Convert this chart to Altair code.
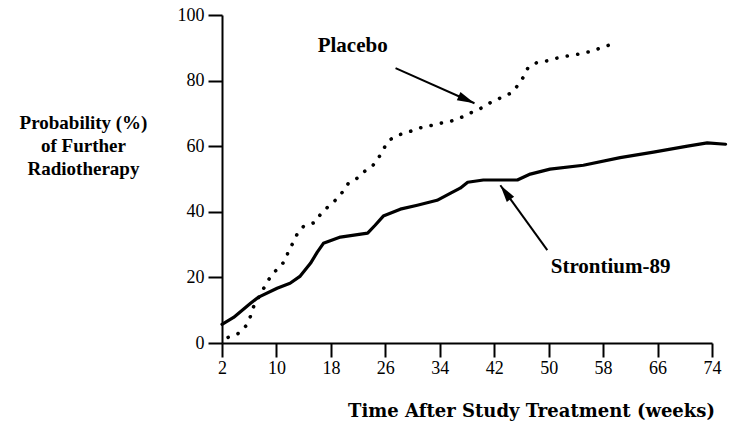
import altair as alt
import pandas as pd

# ---- data ----
placebo_weeks = [2.9, 4.5, 5.6, 6.2, 6.6, 7.9, 8.7, 9.5, 10.6, 11.5, 11.7, 12.5, 13.1, 14.0,
                 15.7, 16.4, 17.5, 18.7, 19.7, 20.6, 21.9, 22.8, 24.2, 25.0, 25.7, 26.6, 27.9,
                 29.4, 30.9, 32.3, 34.1, 35.6, 37.3, 38.8, 40.4, 41.6, 42.9, 44.5, 45.5, 46.3,
                 47.0, 48.2, 49.7, 51.3, 52.7, 54.5, 56.4, 57.9, 59.5]
placebo_prob = [1.7, 3.0, 5.4, 8.2, 10.9, 15.8, 18.8, 21.3, 23.4, 25.8, 28.0, 30.7, 33.5, 35.6,
                36.8, 39.0, 41.4, 43.6, 46.0, 48.8, 50.3, 52.1, 54.2, 56.4, 59.1, 61.9, 63.4,
                64.3, 65.5, 66.1, 67.0, 67.6, 68.9, 70.4, 71.9, 73.5, 74.7, 76.2, 78.6, 81.1,
                84.1, 85.4, 86.0, 86.9, 87.5, 88.1, 89.0, 90.2, 91.2]

strontium_weeks = [2.0, 3.7, 6.2, 7.3, 10.1, 12.0, 13.5, 15.0, 16.0, 16.9, 19.4, 23.4, 24.5,
                   25.7, 28.2, 30.7, 33.6, 35.6, 37.0, 38.1, 40.4, 45.4, 47.3, 50.2, 55.1,
                   60.5, 65.4, 70.4, 73.3, 76.0]
strontium_prob = [5.7, 7.8, 12.1, 13.9, 16.7, 18.2, 20.4, 24.3, 27.7, 30.4, 32.3, 33.5, 35.9,
                  38.7, 40.8, 42.0, 43.5, 45.7, 47.2, 49.0, 49.7, 49.7, 51.5, 53.0, 54.2,
                  56.5, 58.2, 60.0, 61.0, 60.6]

x_ticks = [2, 10, 18, 26, 34, 42, 50, 58, 66, 74]
y_ticks = [0, 20, 40, 60, 80, 100]

label_text = ["Placebo", "Strontium-89"]
label_week = [21.2, 59.1]
label_prob = [88.7, 21.2]
arrow_tail_week = [27.5, 49.8]
arrow_tail_prob = [83.8, 28.3]
arrow_tip_week = [39.1, 42.9]
arrow_tip_prob = [73.1, 48.1]
arrow_angle = [23.9, 234.3]

# ---- tables ----
df_p = pd.DataFrame({"week": placebo_weeks, "prob": placebo_prob})
df_s = pd.DataFrame({"week": strontium_weeks, "prob": strontium_prob})
df_lab = pd.DataFrame({"week": label_week, "prob": label_prob, "text": label_text})
df_arrow = pd.DataFrame({"week": arrow_tail_week, "prob": arrow_tail_prob,
                         "week2": arrow_tip_week, "prob2": arrow_tip_prob})
df_head = pd.DataFrame({"week": arrow_tip_week, "prob": arrow_tip_prob, "angle": arrow_angle})

FONT = "Liberation Serif"

x_scale = alt.Scale(domain=[2, 74], nice=False, zero=False)
y_scale = alt.Scale(domain=[0, 100], nice=False, zero=False)

x_axis = alt.Axis(
    values=x_ticks, title="Time After Study Treatment (weeks)", grid=False,
    tickSize=14, tickWidth=2, tickColor="black", domainColor="black", domainWidth=2,
    labelFont=FONT, labelFontSize=18, labelColor="black", labelPadding=2,
    labelFlush=False, labelOverlap=False,
    titleFont="DejaVu Serif", titleFontWeight="bold", titleFontSize=18, titleColor="black",
    titleX=309, titleY=73, titleAlign="center", titleBaseline="alphabetic",
)
y_axis = alt.Axis(
    values=y_ticks, title=["Probability (%)", "of Further", "Radiotherapy"], grid=False,
    tickSize=14, tickWidth=2, tickColor="black", domainColor="black", domainWidth=2,
    labelFont=FONT, labelFontSize=18, labelColor="black", labelPadding=4,
    labelFlush=False, labelOverlap=False,
    titleFont=FONT, titleFontWeight="bold", titleFontSize=19, titleColor="black",
    titleAngle=0, titleX=-139, titleY=107, titleAlign="center", titleBaseline="middle",
    titleLineHeight=23,
)

X = alt.X("week:Q", scale=x_scale, axis=x_axis)
Y = alt.Y("prob:Q", scale=y_scale, axis=y_axis)

strontium = alt.Chart(df_s).mark_line(
    color="black", strokeWidth=3.2, strokeJoin="round", strokeCap="round"
).encode(x=X, y=Y)

placebo = alt.Chart(df_p).mark_line(
    color="black", strokeWidth=3.6, strokeDash=[0.1, 10.5], strokeCap="round"
).encode(x="week:Q", y="prob:Q")

arrows = alt.Chart(df_arrow).mark_rule(color="black", strokeWidth=2).encode(
    x="week:Q", y="prob:Q", x2="week2:Q", y2="prob2:Q"
)

heads = alt.Chart(df_head).mark_point(
    shape="M0,0 L-1,-0.26 L-1,0.26 Z", filled=True, size=1200, color="black",
    opacity=1, strokeWidth=0
).encode(x="week:Q", y="prob:Q", angle=alt.Angle("angle:Q", scale=None))

labels = alt.Chart(df_lab).mark_text(
    font=FONT, fontWeight="bold", fontSize=21, align="center", baseline="alphabetic",
    color="black"
).encode(x="week:Q", y="prob:Q", text="text:N")

chart = alt.layer(strontium, placebo, arrows, heads, labels).properties(
    width=490, height=328,
    padding={"left": 222, "top": 15, "right": 27, "bottom": 80},
    autosize=alt.AutoSizeParams(type="none"),
    background="white",
).configure_view(stroke=None)

chart.save("out.html", embed_options={"renderer": "svg", "actions": False})
